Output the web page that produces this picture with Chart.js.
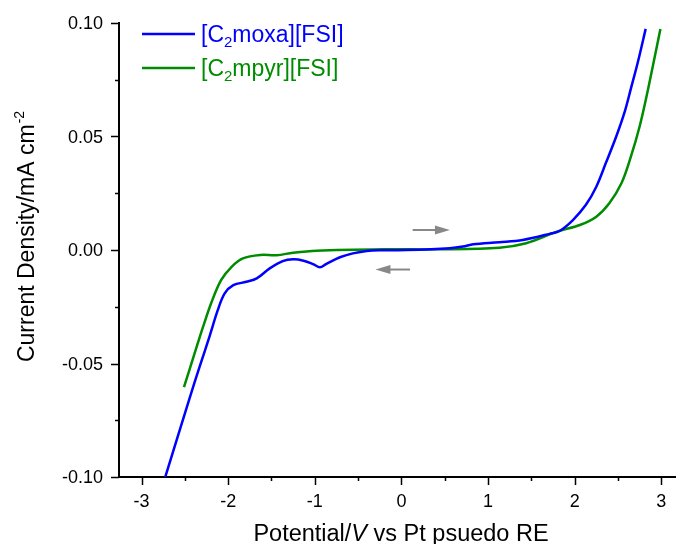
<!DOCTYPE html>
<html>
<head>
<meta charset="utf-8">
<script src="https://cdn.jsdelivr.net/npm/chart.js@4/dist/chart.umd.min.js"></script>
<style>
html, body { margin: 0; padding: 0; background: #fff; }
</style>
</head>
<body>
<canvas id="cv" width="676" height="544"></canvas>
<script>
// series: potential (V) and current density (mA cm-2)
const moxaV = [-2.73, -2.45, -2.33, -2.21, -2.12, -2.04, -1.94, -1.79, -1.67, -1.52, -1.37, -1.25, -1.13, -1.02, -0.94, -0.87, -0.71, -0.56, -0.40, -0.21, 0.06, 0.56, 0.71, 0.83, 1.13, 1.40, 1.71, 1.83, 1.98, 2.13, 2.25, 2.36, 2.48, 2.58, 2.65, 2.73, 2.82];
const moxaJ = [-0.1005, -0.0659, -0.0515, -0.0375, -0.0265, -0.0191, -0.0155, -0.0140, -0.0125, -0.0081, -0.0049, -0.0041, -0.0047, -0.0062, -0.0076, -0.0062, -0.0032, -0.0015, -0.0004, -0.0001, 0.0000, 0.0008, 0.0015, 0.0025, 0.0034, 0.0044, 0.0071, 0.0085, 0.0132, 0.0199, 0.0279, 0.0383, 0.0500, 0.0612, 0.0712, 0.0828, 0.0974];

const mpyrV = [-2.51, -2.40, -2.29, -2.19, -2.08, -1.96, -1.83, -1.63, -1.44, -1.25, -0.98, -0.21, 0.44, 1.13, 1.44, 1.75, 1.83, 2.06, 2.25, 2.40, 2.54, 2.65, 2.75, 2.83, 2.91, 2.99];
const mpyrJ = [-0.0604, -0.0471, -0.0339, -0.0228, -0.0132, -0.0074, -0.0037, -0.0022, -0.0023, -0.0012, -0.0003, 0.0003, 0.0003, 0.0010, 0.0030, 0.0074, 0.0085, 0.0110, 0.0147, 0.0206, 0.0294, 0.0412, 0.0544, 0.0677, 0.0824, 0.0974];

const seriesNames = [['[C', '2', 'moxa][FSI]'], ['[C', '2', 'mpyr][FSI]']];
const seriesColors = ['#0000ff', '#008c00'];

const xMajorTicks = [-3, -2, -1, 0, 1, 2, 3];
const xMinorTicks = [-2.5, -1.5, -0.5, 0.5, 1.5, 2.5];
const yMajorTicks = [-0.10, -0.05, 0.00, 0.05, 0.10];
const yMinorTicks = [-0.075, -0.025, 0.025, 0.075];

// scan direction arrows: [fromV, toV, j]
const scanArrows = [[0.13, 0.56, 0.0088], [0.10, -0.30, -0.0086]];

const FONT = '"Liberation Sans", Arial, sans-serif';

function toPoints(xs, ys) {
    return xs.map((v, i) => ({ x: v, y: ys[i] }));
}

// ticks, labels, titles, legend and arrows
const decor = {
    id: 'decor',
    afterDraw(chart) {
        const { ctx, chartArea: area, scales: { x, y } } = chart;
        ctx.save();
        ctx.strokeStyle = '#000';
        ctx.fillStyle = '#000';
        ctx.lineWidth = 1.5;

        // x ticks
        ctx.beginPath();
        xMajorTicks.forEach(v => {
            const px = Math.round(x.getPixelForValue(v)) + 0.5;
            ctx.moveTo(px, area.bottom); ctx.lineTo(px, area.bottom + 8);
        });
        xMinorTicks.forEach(v => {
            const px = Math.round(x.getPixelForValue(v)) + 0.5;
            ctx.moveTo(px, area.bottom); ctx.lineTo(px, area.bottom + 4);
        });
        // y ticks
        yMajorTicks.forEach(v => {
            const py = Math.round(y.getPixelForValue(v)) + 0.5;
            ctx.moveTo(area.left, py); ctx.lineTo(area.left - 8, py);
        });
        yMinorTicks.forEach(v => {
            const py = Math.round(y.getPixelForValue(v)) + 0.5;
            ctx.moveTo(area.left, py); ctx.lineTo(area.left - 4, py);
        });
        ctx.stroke();

        ctx.font = '18px ' + FONT;
        ctx.textBaseline = 'alphabetic';
        ctx.textAlign = 'center';
        xMajorTicks.forEach(v => {
            ctx.fillText(String(v), x.getPixelForValue(v), area.bottom + 30);
        });
        ctx.textAlign = 'right';
        yMajorTicks.forEach(v => {
            ctx.fillText(v.toFixed(2), area.left - 16, y.getPixelForValue(v) + 6);
        });

        // x title
        ctx.textAlign = 'left';
        const p1 = 'Potential/', p2 = 'V', p3 = ' vs Pt psuedo RE';
        const tf = '23.5px ' + FONT;
        ctx.font = tf;
        const w1 = ctx.measureText(p1).width, w3 = ctx.measureText(p3).width;
        ctx.font = 'italic ' + tf;
        const w2 = ctx.measureText(p2).width;
        const tx = 401 - (w1 + w2 + w3) / 2;
        const ty = 541;
        ctx.font = tf;
        ctx.fillText(p1, tx, ty);
        ctx.font = 'italic ' + tf;
        ctx.fillText(p2, tx + w1, ty);
        ctx.font = tf;
        ctx.fillText(p3, tx + w1 + w2, ty);

        // y title
        ctx.save();
        ctx.translate(34, 237);
        ctx.rotate(-Math.PI / 2);
        const q1 = 'Current Density/mA cm', q2 = '-2';
        ctx.font = '23px ' + FONT;
        const v1 = ctx.measureText(q1).width;
        ctx.font = '14px ' + FONT;
        const v2 = ctx.measureText(q2).width;
        const sx = -(v1 + v2) / 2;
        ctx.font = '23px ' + FONT;
        ctx.fillText(q1, sx, 0);
        ctx.font = '14px ' + FONT;
        ctx.fillText(q2, sx + v1 + 1, -10);
        ctx.restore();

        // legend
        seriesNames.forEach((parts, i) => {
            const ly = 34 + i * 34;
            ctx.strokeStyle = seriesColors[i];
            ctx.lineWidth = 2.5;
            ctx.beginPath();
            ctx.moveTo(142, ly); ctx.lineTo(195, ly);
            ctx.stroke();
            ctx.fillStyle = seriesColors[i];
            let lx = 201;
            const base = ly + 8;
            ctx.font = '23px ' + FONT;
            ctx.fillText(parts[0], lx, base);
            lx += ctx.measureText(parts[0]).width;
            ctx.font = '15px ' + FONT;
            ctx.fillText(parts[1], lx, base + 5);
            lx += ctx.measureText(parts[1]).width;
            ctx.font = '23px ' + FONT;
            ctx.fillText(parts[2], lx, base);
        });

        // scan arrows
        ctx.strokeStyle = '#888';
        ctx.fillStyle = '#888';
        ctx.lineWidth = 2;
        scanArrows.forEach(([a, b, j]) => {
            const x0 = x.getPixelForValue(a), x1 = x.getPixelForValue(b);
            const py = y.getPixelForValue(j);
            const dir = Math.sign(x1 - x0);
            ctx.beginPath();
            ctx.moveTo(x0, py); ctx.lineTo(x1 - dir * 12, py);
            ctx.stroke();
            ctx.beginPath();
            ctx.moveTo(x1, py);
            ctx.lineTo(x1 - dir * 15, py - 4.5);
            ctx.lineTo(x1 - dir * 15, py + 4.5);
            ctx.closePath();
            ctx.fill();
        });
        ctx.restore();
    }
};

new Chart(document.getElementById('cv'), {
    type: 'scatter',
    data: {
        datasets: [
            { label: seriesNames[0].join(''), data: toPoints(moxaV, moxaJ), borderColor: seriesColors[0] },
            { label: seriesNames[1].join(''), data: toPoints(mpyrV, mpyrJ), borderColor: seriesColors[1] }
        ]
    },
    options: {
        responsive: false,
        animation: false,
        showLine: true,
        layout: { padding: { left: 119, top: 23, right: 0, bottom: 67 } },
        elements: {
            point: { radius: 0 },
            line: { borderWidth: 2.5, tension: 0.35 }
        },
        plugins: { legend: { display: false }, tooltip: { enabled: false } },
        scales: {
            x: {
                type: 'linear', min: -3.26, max: 3.17,
                grid: { display: false, drawTicks: false },
                ticks: { display: false },
                border: { display: true, color: '#000', width: 2 }
            },
            y: {
                type: 'linear', min: -0.1, max: 0.1,
                grid: { display: false, drawTicks: false },
                ticks: { display: false },
                border: { display: true, color: '#000', width: 2 }
            }
        }
    },
    plugins: [decor]
});
</script>
</body>
</html>
